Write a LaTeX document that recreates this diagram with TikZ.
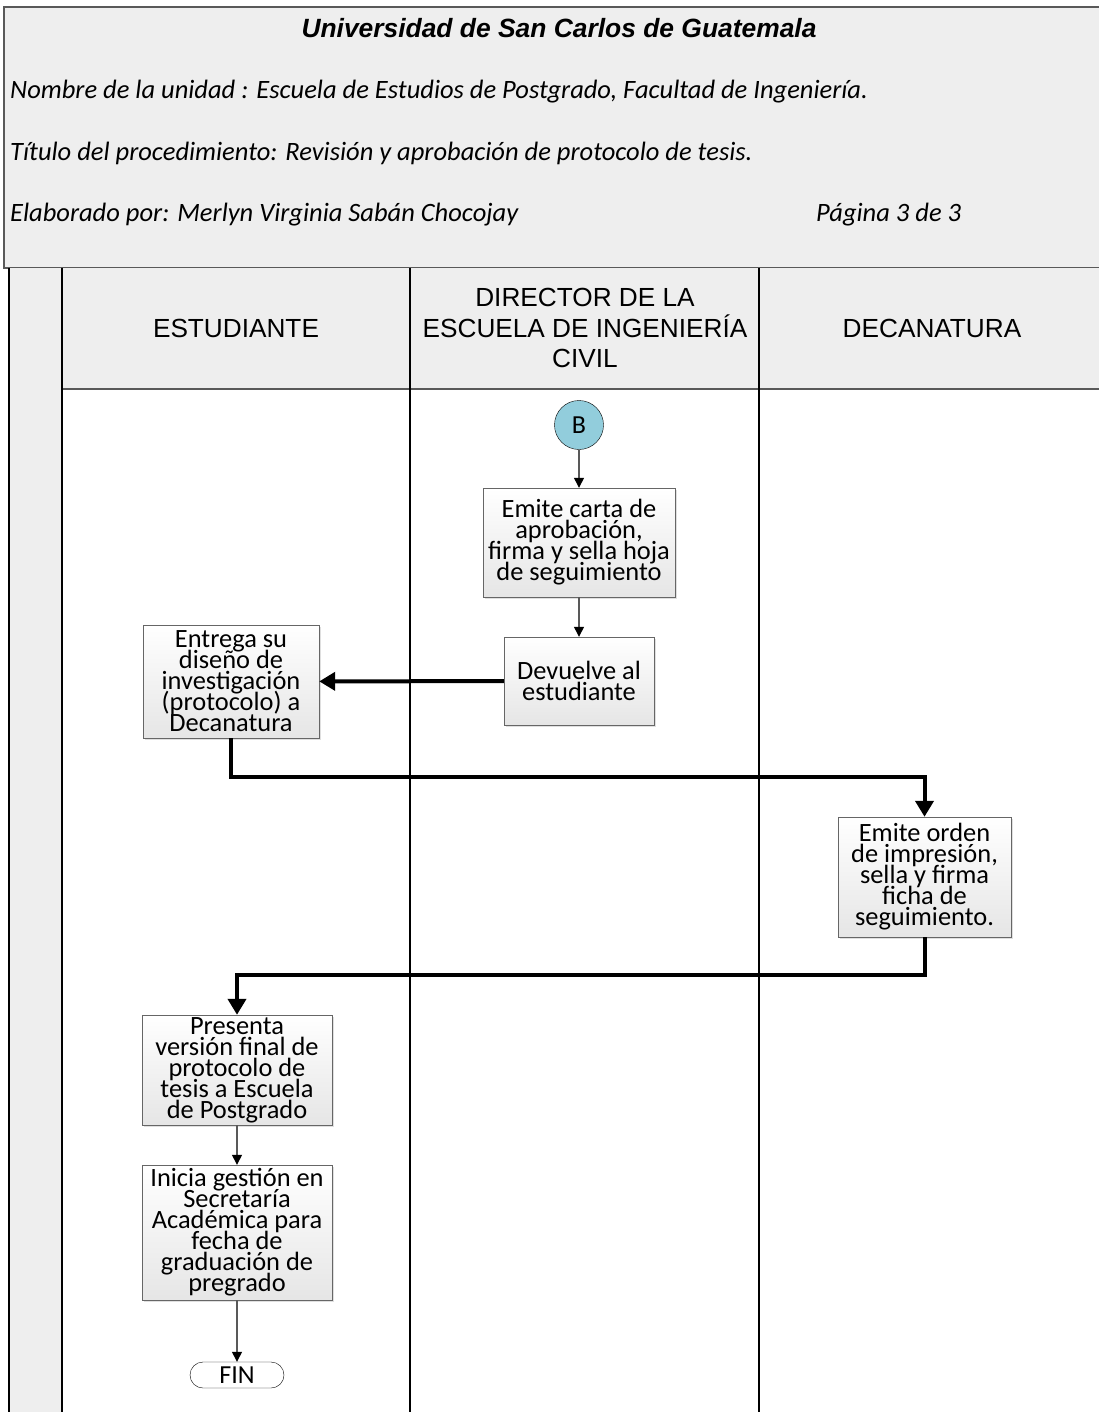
\documentclass[tikz,border=0pt]{standalone}
\usepackage{fontspec}
\setmainfont{Carlito}
\newfontfamily\arialfont{Liberation Sans}
\usetikzlibrary{arrows.meta,shadows}
\definecolor{hdrgray}{HTML}{EEEEEE}
\definecolor{conncol}{HTML}{92CDDC}
\definecolor{edgegray}{HTML}{595959}
\newcommand\tightfont{\fontsize{26.4}{21}\selectfont\lineskiplimit=-50pt\relax\lineskip=0pt\relax}
\tikzset{
  act/.style={rectangle,draw=gray!80!black,top color=white,bottom color=black!10,
    drop shadow={opacity=0.25,shadow xshift=2pt,shadow yshift=-2pt},
    align=center,inner sep=2pt,font=\tightfont},
  conn/.style={circle,draw,fill=conncol,minimum size=49pt,inner sep=0pt,
    font=\fontsize{26}{26}\selectfont},
  term/.style={rectangle,rounded corners=13pt,draw,minimum width=94pt,
    minimum height=26pt,inner sep=0pt,font=\fontsize{26}{26}\selectfont},
  flow/.style={draw=edgegray,line width=1.3pt,-{Triangle[black,length=10pt,width=10pt]}},
  bigflow/.style={line width=4pt,-{Triangle[length=16pt,width=18pt]}},
  lane/.style={line width=1.5pt},
  lanetitle/.style={align=center,font=\arialfont\fontsize{26.2}{30.5}\selectfont},
  hdr/.style={anchor=base west,inner sep=0pt,font=\itshape\fontsize{26.5}{30}\selectfont}
}

\begin{document}
\begin{tikzpicture}[x=1pt,y=-1pt]
\useasboundingbox (0,0) rectangle (1099,1412);
% header block
\fill[hdrgray] (4,7) rectangle (1099,268);
\draw[draw=edgegray,line width=1.5pt] (1099,7) -- (4,7) -- (4,268) -- (1099,268);
\node[anchor=base,inner sep=0pt,font=\arialfont\bfseries\itshape\fontsize{26.4}{30}\selectfont] (univ) at (559,38) {Universidad de San Carlos de Guatemala};
\node[hdr] (unidad) at (10,99) {Nombre de la unidad : Escuela de Estudios de Postgrado, Facultad de Ingeniería.};
\node[hdr] (titulo) at (10,161) {Título del procedimiento: Revisión y aprobación de protocolo de tesis.};
\node[hdr] (autor) at (10,222) {Elaborado por: Merlyn Virginia Sabán Chocojay};
\node[hdr] (pagina) at (816,222) {Página 3 de 3};
% lanes
\fill[hdrgray] (62,268) rectangle (1099,389);
\fill[hdrgray] (9,268) rectangle (62,1412);
\draw[edgegray,line width=2pt] (62,389) -- (1099,389);
\draw[lane] (9,268) -- (9,1412);
\draw[lane] (62,268) -- (62,1412);
\draw[lane] (410,268) -- (410,1412);
\draw[lane] (759,268) -- (759,1412);
\node[lanetitle] (hest) at (236,328) {ESTUDIANTE};
\node[lanetitle] (hdir) at (585,328) {DIRECTOR DE LA\\ESCUELA DE INGENIERÍA\\CIVIL};
\node[lanetitle] (hdec) at (932,328) {DECANATURA};
% steps
\node[conn] (b) at (579,425) {B};
\node[act,minimum width=192pt,minimum height=109pt] (carta) at (579,542.5) {Emite carta de\\aprobación,\\firma y sella hoja\\de seguimiento};
\node[act,minimum width=150pt,minimum height=88pt] (devuelve) at (579,681) {Devuelve al\\estudiante};
\node[act,minimum width=176pt,minimum height=113pt] (entrega) at (231,681.5) {Entrega su\\diseño de\\investigación\\(protocolo) a\\Decanatura};
\node[act,minimum width=173pt,minimum height=120pt] (orden) at (924.5,877) {Emite orden\\de impresión,\\sella y firma\\ficha de\\seguimiento.};
\node[act,minimum width=190pt,minimum height=110pt] (presenta) at (237,1070) {Presenta\\versión final de\\protocolo de\\tesis a Escuela\\de Postgrado};
\node[act,minimum width=190pt,minimum height=135pt] (inicia) at (237,1232.5) {Inicia gestión en\\Secretaría\\Académica para\\fecha de\\graduación de\\pregrado};
\node[term] (fin) at (237,1375) {FIN};
\coordinate (k1) at (0,777);
\coordinate (k2) at (0,975);
% connectors
\draw[flow] (b) -- (carta);
\draw[flow] (carta) -- (devuelve);
\draw[bigflow] (devuelve) -- (entrega);
\draw[bigflow] (entrega.south) -- (entrega.south |- k1) -| (orden.north);
\draw[bigflow] (orden.south) -- (orden.south |- k2) -| (presenta.north);
\draw[flow] (presenta) -- (inicia);
\draw[flow] (inicia) -- (fin);
\end{tikzpicture}
\end{document}
